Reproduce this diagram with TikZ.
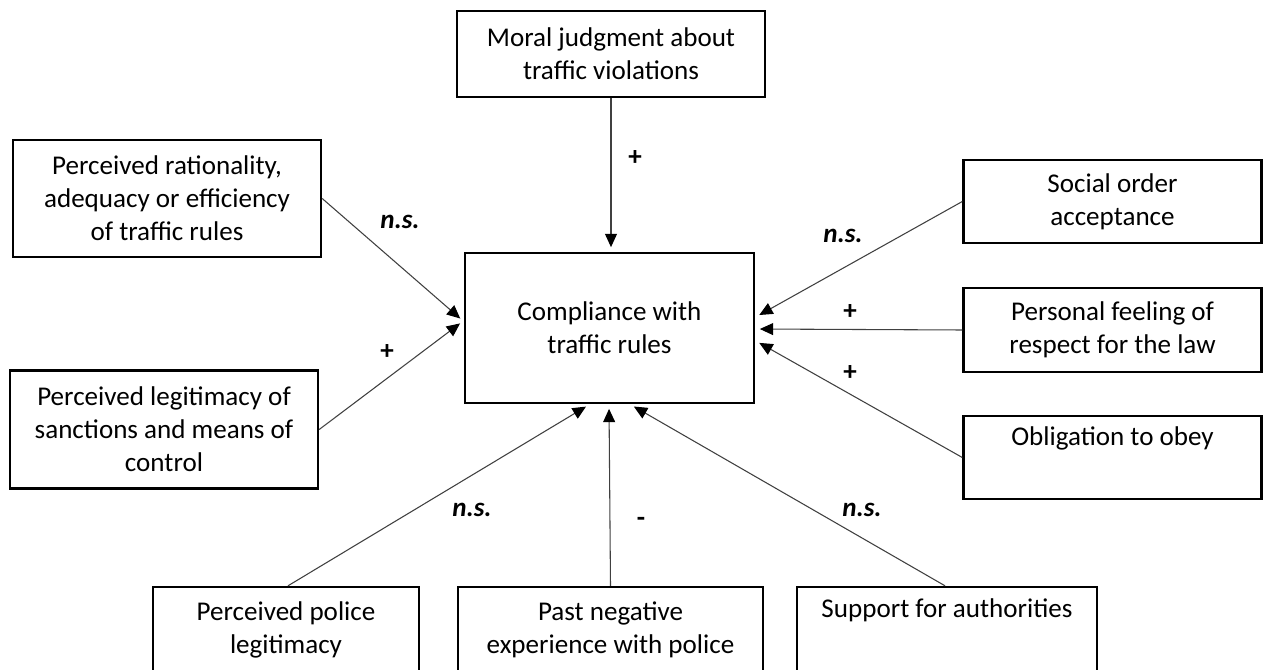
\documentclass[tikz,border=0pt]{standalone}
\usepackage{fontspec}
\setmainfont{Carlito}
\usetikzlibrary{arrows.meta,calc}
\newcommand{\boxfont}{\fontsize{20.3}{24.75}\selectfont}
\tikzset{
  box/.style={draw, line width=1.8pt, inner sep=0pt, align=center, font=\boxfont},
  boxdim/.style 2 args={minimum width=#1*0.75pt, minimum height=#2*0.75pt},
  link/.style={-{Triangle[length=10pt,width=9pt,color=black]}, line width=0.8pt, draw=black!75, shorten >=3.5pt},
  sign/.style={font=\boxfont\bfseries},
  nssign/.style={font=\boxfont\bfseries\itshape}
}

\begin{document}
\begin{tikzpicture}[x=0.75pt,y=-0.75pt]
\useasboundingbox (0,0) rectangle (1268,670);
\node[box,boxdim={289}{150}] (comp) at (609.5,328) {Compliance with\\traffic rules};
\node[box,boxdim={308}{86}] (moral) at (611,54) {Moral judgment about\\traffic violations};
\node[box,boxdim={308}{117}] (rat) at (167,198.5) {Perceived rationality,\\adequacy or efficiency\\of traffic rules};
\node[box,boxdim={308}{118}] (sanc) at (164,429.5) {Perceived legitimacy of\\sanctions and means of\\control};
\node[box,boxdim={298}{83}] (soc) at (1112.5,201.5) {Social order\\acceptance};
\node[box,boxdim={298}{84}] (resp) at (1112.5,330) {Personal feeling of\\respect for the law};
\node[box,boxdim={298}{83}] (oblig) at (1112.5,457.5) {Obligation to obey\\\strut};
\node[box,boxdim={266}{85}] (pol) at (286,629.5) {Perceived police\\legitimacy};
\node[box,boxdim={305}{85}] (past) at (610.5,629.5) {Past negative\\experience with police};
\node[box,boxdim={300}{85}] (supp) at (947,629.5) {Support for authorities\\\strut};

\draw[link] (moral.south) -- ($(comp.north)+(1.5,0)$);
\draw[link] (rat.east) -- ($(comp.west)+(0,-6.4)$);
\draw[link] (sanc.east) -- ($(comp.west)+(0,-7.4)$);
\draw[link] (soc.west) -- ($(comp.east)+(0,-10.7)$);
\draw[link] (resp.west) -- ($(comp.east)+(0,1)$);
\draw[link] (oblig.west) -- ($(comp.east)+(0,12.6)$);
\draw[link] ($(pol.north)+(2,0)$) -- ($(comp.south)+(-19.5,0)$);
\draw[link] (past.north) -- ($(comp.south)+(-0.5,0)$);
\draw[link] ($(supp.north)+(-2,0)$) -- ($(comp.south)+(20.3,0)$);

\node[sign] (smoral) at (635,158) {+};
\node[nssign] (srat) at (400,222) {n.s.};
\node[sign] (ssanc) at (387,352) {+};
\node[nssign] (ssoc) at (843,236) {n.s.};
\node[sign] (sresp) at (850,312) {+};
\node[sign] (soblig) at (850,373) {+};
\node[nssign] (spol) at (472,510) {n.s.};
\node[sign] (spast) at (641,522) {-};
\node[nssign] (ssupp) at (862,510) {n.s.};
\end{tikzpicture}
\end{document}
